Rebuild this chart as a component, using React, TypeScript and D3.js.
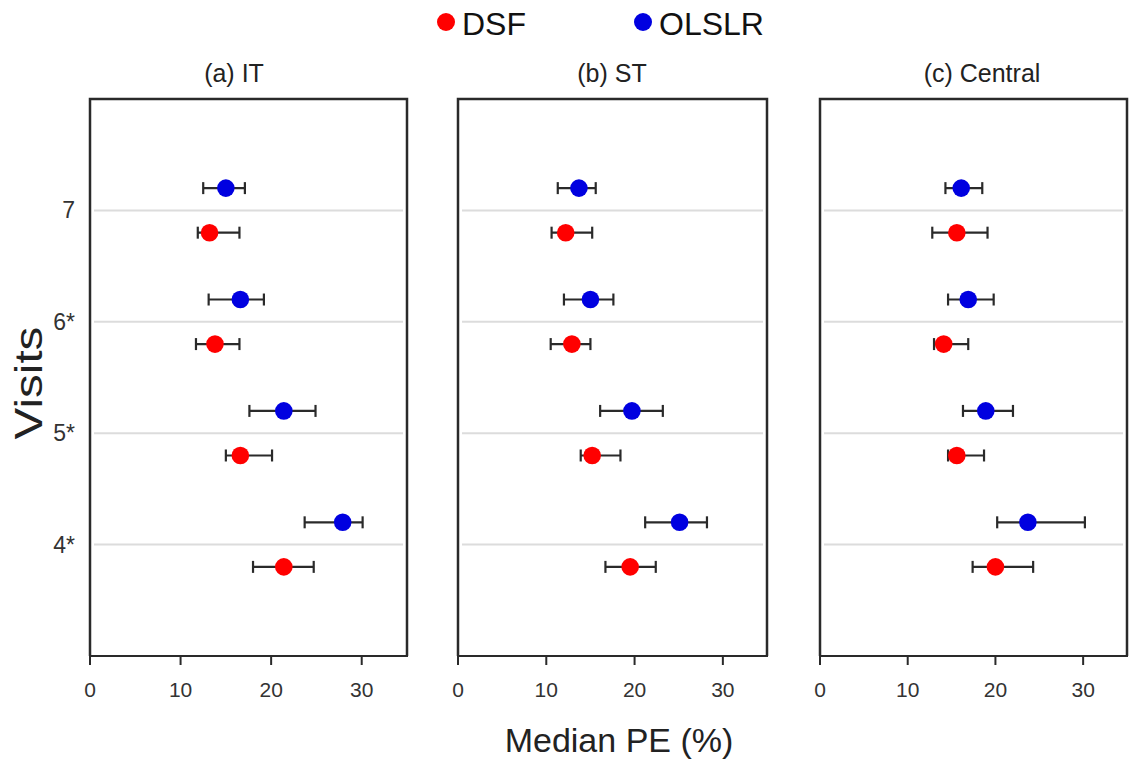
import React from "react";
import * as d3 from "d3";

const visitLabels = ["4*", "5*", "6*", "7"];
const visitValues = [4, 5, 6, 7];
const panelTitles = ["(a) IT", "(b) ST", "(c) Central"];
const seriesNames = ["DSF", "OLSLR"];
const seriesColors = ["#ff0000", "#0000e0"];
const xTicks = [0, 10, 20, 30];

// IT
const itDsfMedian = [21.4, 16.6, 13.8, 13.2];
const itDsfLow = [18.0, 15.0, 11.7, 11.9];
const itDsfHigh = [24.7, 20.1, 16.5, 16.5];
const itOlsMedian = [27.9, 21.4, 16.6, 15.0];
const itOlsLow = [23.7, 17.6, 13.1, 12.5];
const itOlsHigh = [30.1, 24.9, 19.2, 17.1];
// ST
const stDsfMedian = [19.5, 15.2, 12.9, 12.2];
const stDsfLow = [16.7, 13.9, 10.5, 10.6];
const stDsfHigh = [22.4, 18.4, 15.0, 15.2];
const stOlsMedian = [25.1, 19.7, 15.0, 13.7];
const stOlsLow = [21.2, 16.1, 12.0, 11.3];
const stOlsHigh = [28.2, 23.2, 17.6, 15.6];
// Central
const ceDsfMedian = [20.0, 15.6, 14.1, 15.6];
const ceDsfLow = [17.4, 14.6, 13.0, 12.8];
const ceDsfHigh = [24.3, 18.7, 16.9, 19.1];
const ceOlsMedian = [23.7, 18.9, 16.9, 16.1];
const ceOlsLow = [20.2, 16.3, 14.6, 14.3];
const ceOlsHigh = [30.2, 22.0, 19.8, 18.5];

const panelData = [
  [
    { m: itDsfMedian, lo: itDsfLow, hi: itDsfHigh },
    { m: itOlsMedian, lo: itOlsLow, hi: itOlsHigh },
  ],
  [
    { m: stDsfMedian, lo: stDsfLow, hi: stDsfHigh },
    { m: stOlsMedian, lo: stOlsLow, hi: stOlsHigh },
  ],
  [
    { m: ceDsfMedian, lo: ceDsfLow, hi: ceDsfHigh },
    { m: ceOlsMedian, lo: ceOlsLow, hi: ceOlsHigh },
  ],
];

const FONT = "'Liberation Sans', Arial, sans-serif";
const panelLeft = [90, 458, 820];
const panelRight = [407, 767, 1127];
const titleX = [234, 612, 982];
const top = 99;
const bottom = 656;
const seriesOffset = [-0.2, 0.2];

export default function App() {
  const y = d3.scaleLinear().domain([3, 8]).range([bottom, top]);
  return (
    <div style={{ position: "absolute", left: 0, top: 0 }}>
      <svg width={1134} height={762} style={{ display: "block", background: "#fff" }} fontFamily={FONT}>
        {/* legend */}
        {seriesNames.map((s, i) => {
          const lx = [446, 643][i];
          return (
            <g key={s}>
              <circle cx={lx} cy={22} r={9} fill={seriesColors[i]} />
              <text x={lx + 16} y={35} fontSize={32} fill="#111">{s}</text>
            </g>
          );
        })}
        {/* y axis labels */}
        <text transform={`translate(42,383) rotate(-90) scale(1.22,1)`} textAnchor="middle" fontSize={39} fill="#222">Visits</text>
        {visitLabels.map((l, i) => (
          <text key={l} x={75} y={y(visitValues[i]) + 8} textAnchor="end" fontSize={23} fill="#333">{l}</text>
        ))}
        <text x={619} y={752} textAnchor="middle" fontSize={34} fill="#222">Median PE (%)</text>
        {panelData.map((series, p) => {
          const x = d3.scaleLinear().domain([0, 35]).range([panelLeft[p], panelRight[p]]);
          return (
            <g key={p}>
              <text x={titleX[p]} y={82} textAnchor="middle" fontSize={25} fill="#222">{panelTitles[p]}</text>
              {visitValues.map((v) => (
                <line key={v} x1={x(0) + 4} x2={x(35) - 4} y1={y(v)} y2={y(v)} stroke="#dcdcdc" strokeWidth={2} />
              ))}
              <path
                d={`M${x(0)},${bottom}V${top}H${x(35)}V${bottom}`}
                fill="none"
                stroke="#2a2a2a"
                strokeWidth={2.5}
              />
              <line x1={x(0) - 1} x2={x(35) + 1} y1={bottom} y2={bottom} stroke="#2a2a2a" strokeWidth={2} />
              {xTicks.map((t) => (
                <g key={t}>
                  <line x1={x(t)} x2={x(t)} y1={bottom} y2={bottom + 9} stroke="#2a2a2a" strokeWidth={2} />
                  <text x={x(t)} y={697} textAnchor="middle" fontSize={21} fill="#333">{t}</text>
                </g>
              ))}
              {series.map((s, si) =>
                visitValues.map((v, i) => {
                  const cy = y(v + seriesOffset[si]);
                  return (
                    <g key={`${si}-${i}`}>
                      <line x1={x(s.lo[i])} x2={x(s.hi[i])} y1={cy} y2={cy} stroke="#2a2a2a" strokeWidth={2.2} />
                      <line x1={x(s.lo[i])} x2={x(s.lo[i])} y1={cy - 6} y2={cy + 6} stroke="#2a2a2a" strokeWidth={2.2} />
                      <line x1={x(s.hi[i])} x2={x(s.hi[i])} y1={cy - 6} y2={cy + 6} stroke="#2a2a2a" strokeWidth={2.2} />
                      <circle cx={x(s.m[i])} cy={cy} r={8.8} fill={seriesColors[si]} />
                    </g>
                  );
                })
              )}
            </g>
          );
        })}
      </svg>
    </div>
  );
}
